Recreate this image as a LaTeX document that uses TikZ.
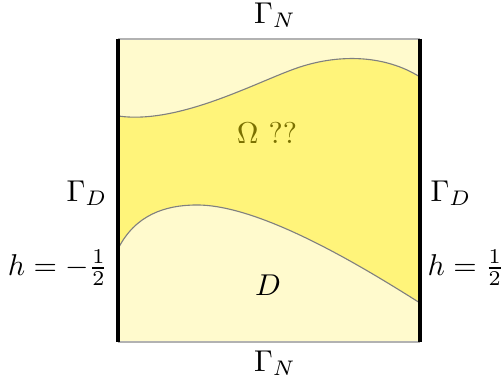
\documentclass[tikz,border=0pt]{standalone}
\usepackage{tikz}
\definecolor{paleyel}{RGB}{255,250,205}
\definecolor{midyel}{RGB}{255,244,122}
\definecolor{olivetxt}{RGB}{122,112,0}
\begin{document}
\begin{tikzpicture}[x=0.0126cm,y=-0.0126cm,every node/.style={scale=1.08,inner sep=1pt}]
  \useasboundingbox (0,0) rectangle (501,381);
  \fill[paleyel] (118,39) rectangle (420,342);
  \fill[midyel] (118,116) .. controls (180,125) and (260,80) .. (300,67)
    .. controls (340,54) and (385,55) .. (420,77) -- (420,303)
    .. controls (360,265) and (260,205) .. (197,205)
    .. controls (165,205) and (135,215) .. (118,249) -- cycle;
  \draw[gray,thin] (118,116) .. controls (180,125) and (260,80) .. (300,67)
    .. controls (340,54) and (385,55) .. (420,77);
  \draw[gray,thin] (118,249) .. controls (135,215) and (165,205) .. (197,205)
    .. controls (260,205) and (360,265) .. (420,303);
  \draw[gray!60,thin] (118,39) -- (420,39) (118,342) -- (420,342);
  \draw[line width=1.2pt] (118,39) -- (118,342) (420,39) -- (420,342);
  \node (omega) at (267,133) {\color{olivetxt}$\Omega$ ??};
  \node (dom) at (268,285) {$D$};
  \node (gnt) at (275,15) {$\Gamma_N$};
  \node (gnb) at (275,363) {$\Gamma_N$};
  \node (gdl) at (87,193) {$\Gamma_D$};
  \node (gdr) at (451,193) {$\Gamma_D$};
  \node (hl) at (58,268) {$h=-\frac{1}{2}$};
  \node (hr) at (466,268) {$h=\frac{1}{2}$};
\end{tikzpicture}
\end{document}
